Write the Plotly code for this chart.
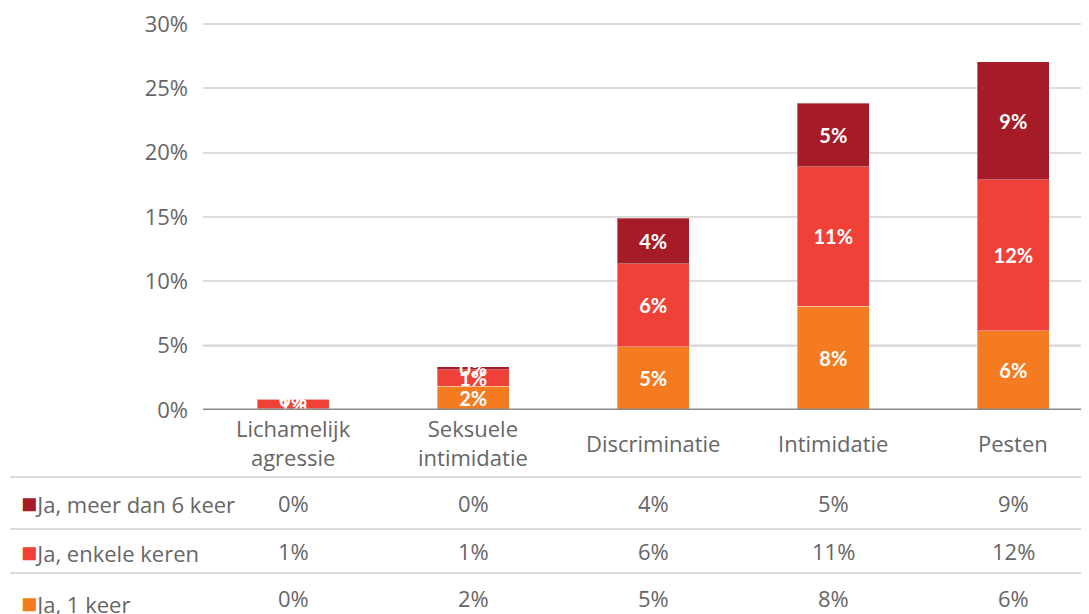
import plotly.graph_objects as go

categories = ["Lichamelijk<br>agressie", "Seksuele<br>intimidatie", "Discriminatie", "Intimidatie", "Pesten"]
series_names = ["Ja, 1 keer", "Ja, enkele keren", "Ja, meer dan 6 keer"]
ja_1_keer = [0.1, 1.86, 4.9, 8.08, 6.14]
ja_enkele_keren = [0.75, 1.25, 6.45, 10.8, 11.73]
ja_meer_dan_6 = [0.03, 0.25, 3.55, 4.97, 9.17]
y_ticks = [0, 5, 10, 15, 20, 25, 30]

colors = {"Ja, 1 keer": "#F47B20", "Ja, enkele keren": "#EF4137", "Ja, meer dan 6 keer": "#A51C28"}
values = {"Ja, 1 keer": ja_1_keer, "Ja, enkele keren": ja_enkele_keren, "Ja, meer dan 6 keer": ja_meer_dan_6}

GRAY = "#666666"
FONT = "Open Sans"
FS = 22

# page offset from the default html body margin
OFF = 8
YMAX = 30.3
# page pixels: 0% at y=410, 30% at y=24
PX_PER_UNIT = (410 - 24) / 30
PL, PR = 203 - OFF, 1089 - OFF
PB = 410 - OFF
PT = round(410 - YMAX * PX_PER_UNIT) - OFF
W, H = 1089 - OFF, 614 - OFF

def px_x(px):
    return (px - OFF - PL) / (PR - PL)

def px_y(py):
    return (PB - (py - OFF)) / (PB - PT)

xs = list(range(len(categories)))
fig = go.Figure()
for name in series_names:
    fig.add_trace(go.Bar(
        x=xs, y=values[name], name=name, width=0.4,
        marker=dict(color=colors[name], line=dict(color="rgba(255,255,255,0.35)", width=1)),
        text=[f"{round(v)}%" for v in values[name]],
        textposition="inside", insidetextanchor="middle",
        textfont=dict(family="Lato", size=20, color="white", weight="bold"),
        showlegend=False,
    ))

annotations = []
for i, c in enumerate(categories):
    annotations.append(dict(x=i, y=px_y(443), xref="x", yref="paper", text=c, showarrow=False,
                            xanchor="center", yanchor="middle",
                            font=dict(family=FONT, size=FS, color=GRAY)))

row_order = ["Ja, meer dan 6 keer", "Ja, enkele keren", "Ja, 1 keer"]
row_y = [503, 551, 598]
label_y = [502, 551, 602]
for name, ry, ly in zip(row_order, row_y, label_y):
    annotations.append(dict(x=px_x(19), y=px_y(ly), xref="paper", yref="paper",
                            text=f"<span style='color:{colors[name]};font-size:27px'>■</span>{name}",
                            showarrow=False, xanchor="left", yanchor="middle",
                            font=dict(family=FONT, size=FS, color=GRAY)))
    for i, v in enumerate(values[name]):
        annotations.append(dict(x=i, y=px_y(ry), xref="x", yref="paper", text=f"{round(v)}%",
                                showarrow=False, xanchor="center", yanchor="middle",
                                font=dict(family=FONT, size=FS, color=GRAY)))

shapes = []
for ly in [477, 529, 573]:
    shapes.append(dict(type="line", xref="paper", yref="paper", x0=px_x(10), x1=1,
                       y0=px_y(ly), y1=px_y(ly), line=dict(color="#cfcfcf", width=1.5)))
shapes.append(dict(type="line", xref="paper", yref="y", x0=0, x1=1, y0=5, y1=5,
                   line=dict(color="#a6a6a6", width=2), layer="below"))
shapes.append(dict(type="line", xref="paper", yref="y", x0=0, x1=1, y0=0, y1=0,
                   line=dict(color="#8a8a8a", width=3), layer="above"))

fig.update_layout(
    barmode="stack",
    width=W, height=H,
    margin=dict(l=PL, r=W - PR, t=PT, b=H - PB, pad=0),
    paper_bgcolor="white", plot_bgcolor="white",
    uniformtext=dict(minsize=20, mode="show"),
    annotations=annotations, shapes=shapes,
    xaxis=dict(range=[-0.5, 4.42], showticklabels=False, showgrid=False, zeroline=False,
               showline=False, fixedrange=True),
    yaxis=dict(range=[0, YMAX], tickvals=y_ticks, ticktext=[f"{t}%" for t in y_ticks],
               showgrid=True, gridcolor="#dcdcdc", gridwidth=2, zeroline=False, showline=False,
               ticks="", ticklabelstandoff=14, ticklabeloverflow="allow",
               tickfont=dict(family=FONT, size=FS, color=GRAY)),
)

fig.write_html("out.html")
